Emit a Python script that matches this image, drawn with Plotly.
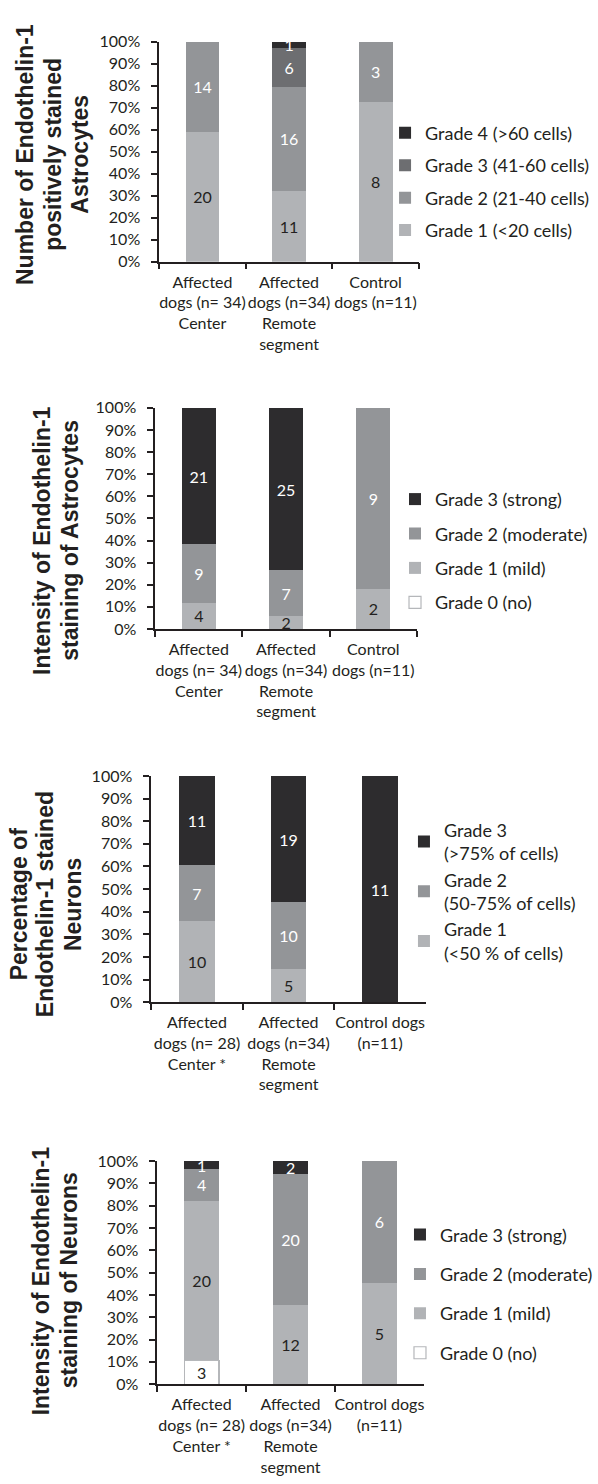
import plotly.graph_objects as go

W, H = 598, 1484

# ---------------- data ----------------
groups_astro = ["Affected<br>dogs (n= 34)<br>Center",
                "Affected<br>dogs (n=34)<br>Remote<br>segment",
                "Control<br>dogs (n=11)"]
groups_neuro = ["Affected<br>dogs (n= 28)<br>Center *",
                "Affected<br>dogs (n=34)<br>Remote<br>segment",
                "Control dogs<br>(n=11)"]

# Number of ET-1 positively stained astrocytes
astro_num_names = ["Grade 1 (<20 cells)", "Grade 2 (21-40 cells)",
                   "Grade 3 (41-60 cells)", "Grade 4 (>60 cells)"]
astro_num_g1 = [20, 11, 8]
astro_num_g2 = [14, 16, 3]
astro_num_g3 = [0, 6, 0]
astro_num_g4 = [0, 1, 0]

# Intensity of ET-1 staining of astrocytes
astro_int_names = ["Grade 0 (no)", "Grade 1 (mild)", "Grade 2 (moderate)", "Grade 3 (strong)"]
astro_int_g0 = [0, 0, 0]
astro_int_g1 = [4, 2, 2]
astro_int_g2 = [9, 7, 9]
astro_int_g3 = [21, 25, 0]

# Percentage of ET-1 stained neurons
neuro_pct_names = ["Grade 1<br>(<50 % of cells)", "Grade 2<br>(50-75% of cells)",
                   "Grade 3<br>(>75% of cells)"]
neuro_pct_g1 = [10, 5, 0]
neuro_pct_g2 = [7, 10, 0]
neuro_pct_g3 = [11, 19, 11]

# Intensity of ET-1 staining of neurons
neuro_int_names = ["Grade 0 (no)", "Grade 1 (mild)", "Grade 2 (moderate)", "Grade 3 (strong)"]
neuro_int_g0 = [3, 0, 0]
neuro_int_g1 = [20, 12, 5]
neuro_int_g2 = [4, 20, 6]
neuro_int_g3 = [1, 2, 0]

y_ticks = list(range(0, 101, 10))
y_ticktext = [f"{v}%" for v in y_ticks]

# ---------------- styles ----------------
WHITE = "#ffffff"
LIGHT = "#b1b3b6"
MID = "#939598"
DARKMID = "#6d6e71"
DARK = "#2d2c2e"
INK = "#231f20"
BORDER0 = "#b5b7ba"

FAMILY = "Lato, Calibri, sans-serif"
TICK_FONT = dict(family=FAMILY, size=16, color=INK)
LEG_FONT = dict(family=FAMILY, size=18, color=INK)
TITLE_FONT = dict(family="Liberation Sans, Arial, sans-serif", size=23, color=INK, weight="bold")


def px_x(v):
    return v / W


def px_y(v):
    return 1 - v / H


# panel geometry in pixels: x-left, x-right, y-top, y-bottom
panels = [
    dict(x0=160, x1=421, y0=32, y1=255),
    dict(x0=156, x1=419, y0=403, y1=627),
    dict(x0=152, x1=428, y0=776, y1=1005),
    dict(x0=158, x1=426, y0=1166, y1=1392),
]

series = [
    (groups_astro, astro_num_names,
     [astro_num_g1, astro_num_g2, astro_num_g3, astro_num_g4],
     [LIGHT, MID, DARKMID, DARK], [INK, WHITE, WHITE, WHITE], [False] * 4),
    (groups_astro, astro_int_names,
     [astro_int_g0, astro_int_g1, astro_int_g2, astro_int_g3],
     [WHITE, LIGHT, MID, DARK], [INK, INK, WHITE, WHITE], [True, False, False, False]),
    (groups_neuro, neuro_pct_names,
     [neuro_pct_g1, neuro_pct_g2, neuro_pct_g3],
     [LIGHT, MID, DARK], [INK, WHITE, WHITE], [False] * 3),
    (groups_neuro, neuro_int_names,
     [neuro_int_g0, neuro_int_g1, neuro_int_g2, neuro_int_g3],
     [WHITE, LIGHT, MID, DARK], [INK, INK, WHITE, WHITE], [True, False, False, False]),
]

legend_cfg = [
    dict(left=387, top=106, gap=6),
    dict(left=397, top=477, gap=8),
    dict(left=406, top=812, gap=0),
    dict(left=402, top=1222, gap=13),
]

fig = go.Figure()
layout = dict(
    width=W, height=H, margin=dict(l=0, r=0, t=0, b=0),
    paper_bgcolor="white", plot_bgcolor="white",
    barmode="stack", bargap=0.608,
    showlegend=True, annotations=[],
)

for i, (cats, names, counts, colors, tcolors, outlined) in enumerate(series):
    n = i + 1
    sfx = "" if n == 1 else str(n)
    leg = "legend" if n == 1 else f"legend{n}"
    totals = [sum(col) for col in zip(*counts)]
    for j, (name, vals, col, tcol, outl) in enumerate(zip(names, counts, colors, tcolors, outlined)):
        share = [100.0 * v / t for v, t in zip(vals, totals)]
        fig.add_trace(go.Bar(
            x=cats, y=share, name=name,
            xaxis=f"x{sfx}", yaxis=f"y{sfx}",
            legend=leg, legendgroup=f"p{n}g{j}", legendrank=100 - j,
            marker=dict(color=col,
                        line=dict(color=BORDER0 if outl else col, width=1.2 if outl else 0)),
            text=[str(v) if v else "" for v in vals],
            textposition="inside", insidetextanchor="middle",
            textangle=0, constraintext="none",
            textfont=dict(family=FAMILY, size=16, color=tcol),
            cliponaxis=False, hoverinfo="skip",
        ))
    p = panels[i]
    layout[f"xaxis{sfx}"] = dict(
        domain=[px_x(p["x0"]), px_x(p["x1"])], anchor=f"y{sfx}",
        type="category", categoryorder="array", categoryarray=cats,
        range=[-0.5, 2.5], showline=True, linecolor=INK, linewidth=1.5,
        ticks="outside", tickson="boundaries", ticklen=6, tickwidth=1.5, tickcolor=INK,
        tickangle=0, tickfont=TICK_FONT, ticklabelstandoff=5,
        showgrid=False, zeroline=False, fixedrange=True,
    )
    layout[f"yaxis{sfx}"] = dict(
        domain=[px_y(p["y1"]), px_y(p["y0"])], anchor=f"x{sfx}",
        range=[0, 100], tickmode="array", tickvals=y_ticks, ticktext=y_ticktext,
        showline=True, linecolor=INK, linewidth=1.5,
        ticks="outside", ticklen=6, tickwidth=1.5, tickcolor=INK,
        tickfont=TICK_FONT, ticklabelstandoff=8,
        showgrid=False, zeroline=False, fixedrange=True,
    )
    lc = legend_cfg[i]
    layout[leg] = dict(
        x=px_x(lc["left"]), y=px_y(lc["top"]), xanchor="left", yanchor="top",
        font=LEG_FONT, traceorder="grouped", tracegroupgap=lc["gap"],
        bgcolor="rgba(0,0,0,0)", itemclick=False, itemdoubleclick=False,
    )

# rotated axis titles, one annotation per line
titles = [
    [("Number of Endothelin-1", 25, 146), ("positively stained", 53, 146), ("Astrocytes", 81, 146)],
    [("Intensity of Endothelin-1", 42, 537), ("staining of Astrocytes", 70, 537)],
    [("Percentage of", 19, 906), ("Endothelin-1 stained", 46, 906), ("Neurons", 74, 906)],
    [("Intensity of Endothelin-1", 41, 1287), ("staining of Neurons", 69, 1287)],
]
for lines in titles:
    for txt, cx, cy in lines:
        layout["annotations"].append(dict(
            text=txt, x=px_x(cx), y=px_y(cy), xref="paper", yref="paper",
            xanchor="center", yanchor="middle", textangle=-90,
            showarrow=False, font=TITLE_FONT,
        ))

fig.update_layout(**layout)
fig.write_html("out.html")
